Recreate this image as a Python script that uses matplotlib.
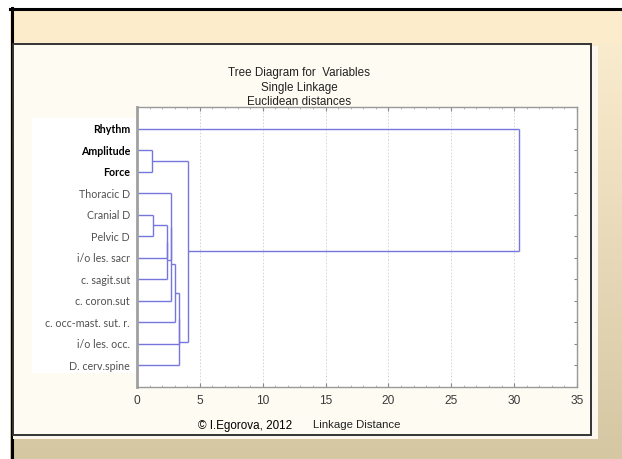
import numpy as np
import matplotlib
matplotlib.use("Agg")
import matplotlib.pyplot as plt
from matplotlib.patches import Rectangle
from matplotlib.ticker import MultipleLocator

# ---------------- data ----------------
labels = ["Rhythm", "Amplitude", "Force", "Thoracic D", "Cranial D", "Pelvic D",
          "i/o les. sacr", "c. sagit.sut", "c. coron.sut", "c. occ-mast. sut. r.",
          "i/o les. occ.", "D. cerv.spine"]
bold_labels = ["Rhythm", "Amplitude", "Force"]
# merges: (child_a, child_b, linkage distance); leaves are 0..11, new nodes 12..
merge_a = [1, 4, 13, 14, 3, 16, 17, 18, 19, 12, 0]
merge_b = [2, 5, 6, 7, 15, 8, 9, 10, 11, 20, 21]
merge_d = [1.17, 1.30, 2.36, 2.41, 2.70, 2.72, 3.02, 3.37, 3.38, 4.03, 30.39]
x_ticks = [0, 5, 10, 15, 20, 25, 30, 35]

W, H = 622, 459
fig = plt.figure(figsize=(W / 100, H / 100), dpi=100)

# ---------------- slide background ----------------
bg = fig.add_axes([0, 0, 1, 1])
bg.set_xlim(0, W)
bg.set_ylim(H, 0)
bg.axis("off")
top_c = np.array([253, 239, 210]) / 255
bot_c = np.array([214, 199, 163]) / 255
t = np.linspace(0, 1, 256)[:, None]
grad = top_c[None, :] * (1 - t) + bot_c[None, :] * t
grad = np.repeat(grad[:, None, :], 2, axis=1)
bg.imshow(grad, extent=[0, W, H, 0], aspect="auto", zorder=0)
# outer white strips
bg.add_patch(Rectangle((0, 0), W, 8, facecolor="white", edgecolor="none", zorder=1))
bg.add_patch(Rectangle((0, 0), 10, H, facecolor="white", edgecolor="none", zorder=1))
# black frame lines
bg.plot([10, W], [9, 9], color="black", lw=2.2, zorder=2)
bg.plot([11.5, 11.5], [8, H], color="black", lw=2.2, zorder=2)
bg.add_patch(Rectangle((12.5, 10), W - 12.5, 33, facecolor="#fdeccb", edgecolor="none", zorder=1))
# inner panel with light offset strip
bg.add_patch(Rectangle((13, 46), 585, 393, facecolor="#fbf7ee", edgecolor="none", zorder=2))
bg.add_patch(Rectangle((13, 44), 578, 391, facecolor="#fefbf3", edgecolor="#333333", lw=1.4, zorder=3))
# white label overlay
bg.add_patch(Rectangle((32, 118), 105, 255, facecolor="white", edgecolor="none", zorder=4))

# titles
title_font = dict(family="Liberation Sans", fontsize=8.4, color="#222222", ha="center", va="center", zorder=5)
bg.text(299, 73, "Tree Diagram for  Variables", **title_font)
bg.text(299, 88, "Single Linkage", **title_font)
bg.text(299, 102, "Euclidean distances", **title_font)
bg.text(245, 426, "\u00a9 I.Egorova, 2012", family="Liberation Sans", fontsize=8.4,
        color="black", ha="center", va="center", zorder=5)

# ---------------- dendrogram axes ----------------
ax = fig.add_axes([137 / W, 1 - 387 / H, 440 / W, 280 / H])
ax.set_zorder(2)
ax.set_facecolor("white")

n = len(labels)
ypos = {i: i + 1.0 for i in range(n)}
xpos = {i: 0.0 for i in range(n)}
line_c = "#7676dc"
for k, (a, b, d) in enumerate(zip(merge_a, merge_b, merge_d)):
    node = n + k
    for c in (a, b):
        ax.plot([xpos[c], d], [ypos[c], ypos[c]], color=line_c, lw=1.0, solid_capstyle="butt")
    ax.plot([d, d], [ypos[a], ypos[b]], color=line_c, lw=1.0, solid_capstyle="butt")
    ypos[node] = (ypos[a] + ypos[b]) / 2
    xpos[node] = d

ax.set_xlim(x_ticks[0], x_ticks[-1])
ax.set_ylim(13.0, 0.0)
ax.set_xticks(x_ticks)
ax.xaxis.set_minor_locator(MultipleLocator(1))
ax.set_xticklabels([str(v) for v in x_ticks], family="Liberation Sans", fontsize=8.6, color="#3a3a3a")
ax.tick_params(axis="x", which="major", direction="in", length=3, top=True, bottom=True,
               pad=6, color="#888888")
ax.tick_params(axis="x", which="minor", direction="in", length=1.5, top=True, bottom=True,
               color="#aaaaaa")
ax.set_yticks([ypos[i] for i in range(n)])
ax.set_yticklabels(labels, family="Lato", fontsize=7.7)
for tl in ax.get_yticklabels():
    if tl.get_text() in bold_labels:
        tl.set_fontweight("bold")
        tl.set_color("black")
    else:
        tl.set_color("#505050")
ax.tick_params(axis="y", direction="in", length=2.5, left=False, right=True, pad=5, color="#888888")
ax.grid(axis="x", which="major", color="#d0d0d0", lw=0.6, linestyle=(0, (2, 2)))
ax.set_axisbelow(True)
for s in ["top", "right", "bottom"]:
    ax.spines[s].set_color("#999999")
    ax.spines[s].set_linewidth(1.0)
ax.spines["left"].set_color("#a0a0a0")
ax.spines["left"].set_linewidth(2.0)
ax.set_xlabel("Linkage Distance", family="Liberation Sans", fontsize=8.2, color="#222222", labelpad=9)

fig.savefig("out.png", dpi=100)
